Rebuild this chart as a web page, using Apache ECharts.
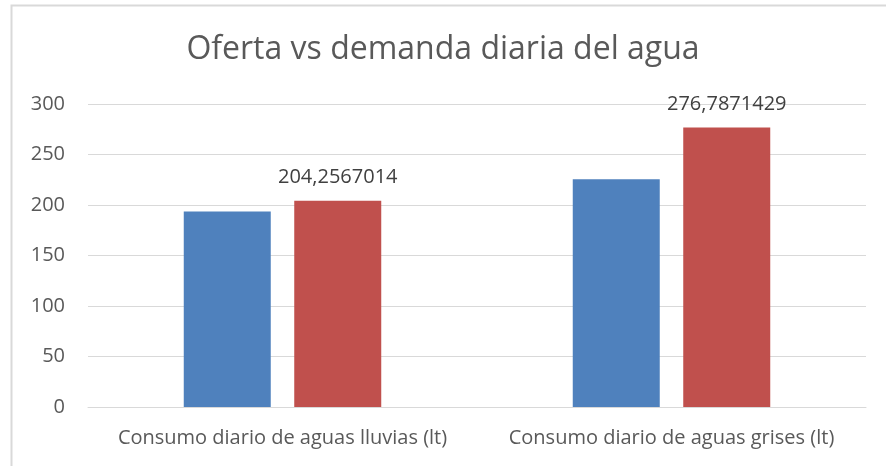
<!DOCTYPE html>
<html lang="es">

<head>
    <meta charset="UTF-8">
    <title>Oferta vs demanda diaria del agua</title>
    <script src="https://cdn.jsdelivr.net/npm/echarts@6/dist/echarts.min.js"></script>
    <style>
        body {
            margin: 0;
            background-color: #fff;
        }

        #chart {
            width: 886px;
            height: 466px;
        }
    </style>
</head>

<body>
    <div id="chart"></div>
    <script>
        var myChart = echarts.init(document.getElementById('chart'));

        var categories = ['Consumo diario de aguas lluvias (lt)', 'Consumo diario de aguas grises (lt)'];
        var oferta = [193.5, 225.5];
        var demanda = [204.2567014, 276.7871429];

        var font = '"Open Sans", "Noto Sans", sans-serif';

        var option = {
            animation: false,
            textStyle: { fontFamily: font },
            graphic: [{
                type: 'polyline',
                shape: { points: [[11.5, 466], [11.5, 5.5], [886, 5.5]] },
                style: { stroke: '#d9d9d9', lineWidth: 2, fill: null }
            }],
            title: {
                text: 'Oferta vs demanda diaria del agua',
                left: 'center',
                top: 29,
                textStyle: { fontSize: 32, fontWeight: 'normal', color: '#595959', fontFamily: font }
            },
            grid: { left: 88, right: 20, top: 104, bottom: 59 },
            xAxis: {
                type: 'category',
                data: categories,
                axisLine: { lineStyle: { color: '#d9d9d9' } },
                axisTick: { show: false },
                axisLabel: { color: '#595959', fontSize: 20, margin: 21, interval: 0 }
            },
            yAxis: {
                type: 'value',
                min: 0,
                max: 300,
                interval: 50,
                axisLabel: { color: '#595959', fontSize: 20, margin: 23 },
                splitLine: { lineStyle: { color: '#d9d9d9' } }
            },
            series: [
                {
                    name: 'Oferta',
                    type: 'bar',
                    data: oferta,
                    barWidth: 87,
                    barGap: '27%',
                    itemStyle: { color: '#4f81bd' }
                },
                {
                    name: 'Demanda',
                    type: 'bar',
                    data: demanda,
                    barWidth: 87,
                    itemStyle: { color: '#c0504d' },
                    label: {
                        show: true,
                        position: 'top',
                        distance: 13,
                        fontSize: 20,
                        color: '#404040',
                        formatter: function (p) {
                            return String(p.value).replace('.', ',');
                        }
                    }
                }
            ]
        };

        myChart.setOption(option);
    </script>
</body>

</html>
